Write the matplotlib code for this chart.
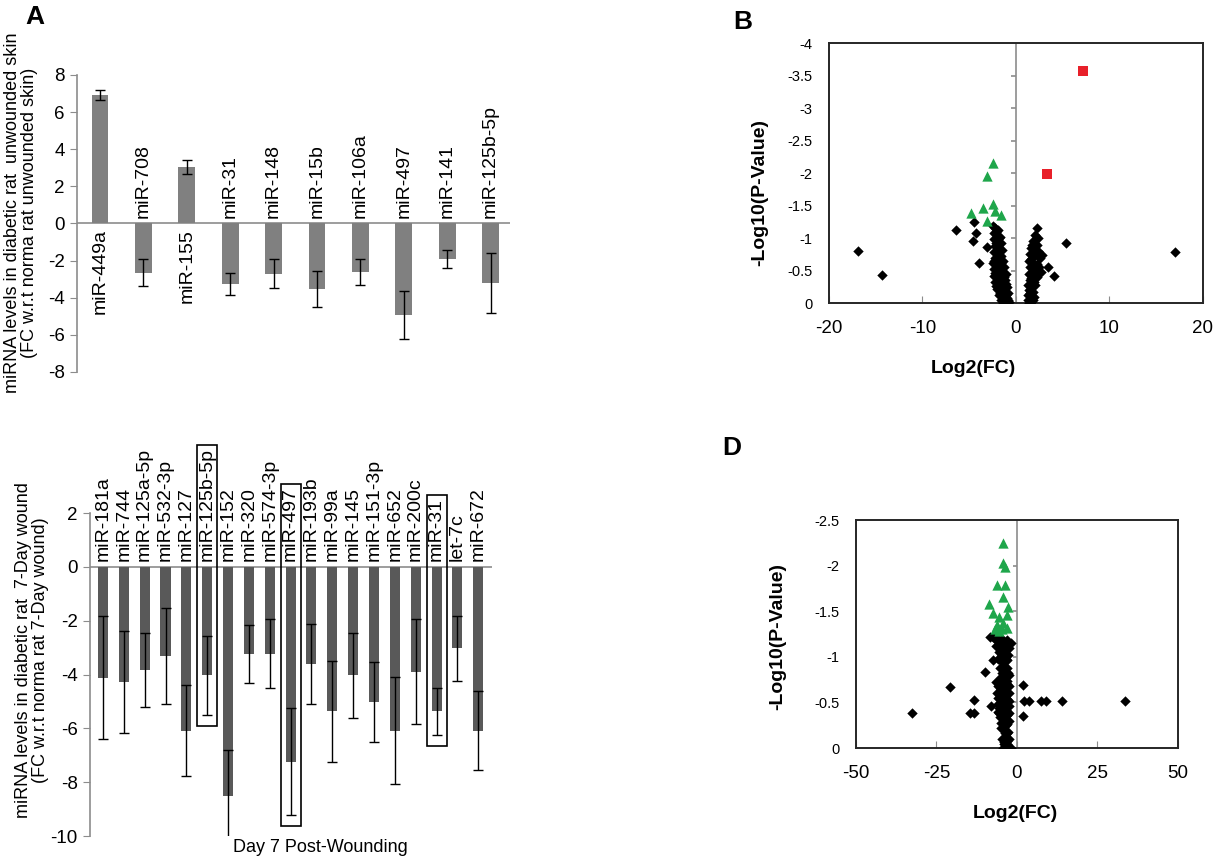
import numpy as np
import matplotlib.pyplot as plt
from matplotlib.patches import Rectangle

plt.rcParams['font.family'] = ['Liberation Sans', 'DejaVu Sans']
plt.rcParams['axes.unicode_minus'] = False

# --- panel A, top: unwounded skin
skin_mirs = ['miR-449a', 'miR-708', 'miR-155', 'miR-31', 'miR-148', 'miR-15b',
             'miR-106a', 'miR-497', 'miR-141', 'miR-125b-5p']
skin_fc = [6.9, -2.65, 3.05, -3.27, -2.7, -3.55, -2.6, -4.95, -1.9, -3.2]
skin_err = [0.27, 0.72, 0.37, 0.58, 0.8, 0.97, 0.7, 1.3, 0.48, 1.6]

# --- panel A, bottom: day 7 wound
wound_mirs = ['miR-181a', 'miR-744', 'miR-125a-5p', 'miR-532-3p', 'miR-127',
              'miR-125b-5p', 'miR-152', 'miR-320', 'miR-574-3p', 'miR-497',
              'miR-193b', 'miR-99a', 'miR-145', 'miR-151-3p', 'miR-652',
              'miR-200c', 'miR-31', 'let-7c', 'miR-672']
wound_fc = [-4.11, -4.28, -3.84, -3.3, -6.08, -4.03, -8.52, -3.22, -3.22, -7.23,
            -3.6, -5.36, -4.03, -5.01, -6.08, -3.89, -5.36, -3.02, -6.08]
wound_err = [2.3, 1.9, 1.38, 1.79, 1.7, 1.47, 1.7, 1.08, 1.28, 2.0,
             1.48, 1.87, 1.58, 1.48, 2.0, 1.96, 0.88, 1.2, 1.48]
boxed = ['miR-125b-5p', 'miR-497', 'miR-31']

# --- panel B volcano
b_black_x = [-16.9, -14.3, -6.45, -4.5, -4.28, -4.56, -3.07, -3.99,
             -2.5, -2.2, -1.9, -2.4, -2.0, -1.7, -2.3, -1.9, -1.6, -2.2, -1.8, -1.5,
             -2.4, -2.0, -1.6, -2.2, -1.8, -1.4, -2.5, -2.1, -1.7, -1.3, -2.3, -1.9,
             -1.5, -1.1, -2.4, -2.0, -1.6, -1.2, -2.2, -1.8, -1.4, -1.0, -2.0, -1.6,
             -1.2, -0.9, -1.8, -1.4, -1.0, -1.6, -1.2, -0.8, -1.4, -1.0,
             -2.1, -1.8, -2.1, -1.9, -2.3, -1.6, -2.0, -1.7, -2.2, -1.3, -1.8,
             -2.1, -1.5, -1.1, -1.7, -1.3, -1.5, -1.1, -0.9, -1.2,
             2.3, 2.0, 2.4, 1.8, 2.2, 1.6, 2.0, 2.4, 1.5, 1.9, 2.6, 1.4, 1.8, 2.2,
             1.5, 1.9, 2.3, 2.7, 1.4, 1.8, 2.2, 1.5, 1.9, 1.3, 1.7, 1.4, 1.8, 1.3,
             1.6, 1.3, 1.6, 1.7, 2.1, 1.6, 2.0, 1.7, 2.5, 1.6, 2.0, 1.5, 1.9, 1.4,
             1.5, 1.8, 2.8, 3.4, 4.1, 5.3, 17.0]
b_black_y = [-0.80, -0.43, -1.13, -1.25, -1.08, -0.96, -0.86, -0.62,
             -1.18, -1.15, -1.12, -1.08, -1.05, -1.02, -0.98, -0.95, -0.92, -0.88,
             -0.85, -0.82, -0.78, -0.76, -0.73, -0.70, -0.67, -0.65, -0.62, -0.60,
             -0.57, -0.55, -0.52, -0.50, -0.47, -0.45, -0.42, -0.40, -0.37, -0.35,
             -0.32, -0.30, -0.27, -0.25, -0.22, -0.20, -0.17, -0.15, -0.12, -0.10,
             -0.08, -0.05, -0.03, -0.02, 0.0, 0.0,
             -1.1, -1.0, -0.92, -0.8, -0.65, -0.62, -0.55, -0.45, -0.47, -0.4,
             -0.35, -0.27, -0.3, -0.3, -0.15, -0.22, -0.05, -0.12, -0.05, 0.0,
             -1.15, -1.05, -1.0, -0.95, -0.9, -0.85, -0.82, -0.8, -0.75, -0.72,
             -0.7, -0.65, -0.62, -0.6, -0.55, -0.52, -0.5, -0.48, -0.45, -0.42,
             -0.4, -0.35, -0.32, -0.28, -0.25, -0.2, -0.17, -0.12, -0.08, -0.04,
             -0.02, -0.9, -0.75, -0.68, -0.57, -0.48, -0.55, -0.38, -0.28, -0.15,
             -0.1, 0.0, -0.3, -0.05, -0.74, -0.56, -0.42, -0.92, -0.78]
b_green_x = [-2.42, -3.07, -3.5, -2.42, -4.81, -1.6, -2.25, -3.07]
b_green_y = [-2.16, -1.95, -1.46, -1.52, -1.38, -1.35, -1.42, -1.27]
b_red_x = [7.2, 3.28]
b_red_y = [-3.57, -1.98]

# --- panel D volcano
d_black_x = [-32.5, -20.7, -13.4, -14.7, -13.2, -8.2, -9.9, -7.3, -8.5, -5.7,
             2.0, 2.1, 3.6, 7.4, 9.0, 14.1, 33.7, 1.8,
             -7.5, -6.0, -4.5, -3.0, -2.0, -6.5, -5.0, -3.5, -2.5, -4.5, -3.5,
             -5.0, -4.0, -3.0, -4.5, -3.5, -2.5, -5.5, -4.0, -3.0, -6.0, -5.0,
             -3.5, -2.5, -4.5, -6.0, -3.0, -5.0, -4.0, -2.5, -5.5, -3.5, -4.5,
             -3.0, -4.0, -2.5, -5.0, -3.5, -4.0, -3.0, -3.5, -2.5, -4.0, -3.0,
             -4.4, -1.9,
             -6.5, -5.5, -4.0, -3.0, -5.5, -4.0, -2.8, -5.8, -4.5, -3.0, -5.2,
             -3.8, -2.8, -5.0, -4.0, -3.0, -6.5, -5.0, -3.8, -2.6, -6.2, -4.8,
             -3.8, -2.5, -5.8, -4.4, -3.2, -6.0, -4.6, -3.6, -2.4, -5.2, -4.2,
             -3.0, -5.0, -3.8, -2.8, -4.5, -3.2, -4.0, -2.8, -3.8]
d_black_y = [-0.38, -0.67, -0.53, -0.38, -0.38, -0.46, -0.83, -0.96, -1.22, -0.38,
             -0.69, -0.52, -0.52, -0.52, -0.52, -0.52, -0.52, -0.35,
             -1.22, -1.2, -1.2, -1.18, -1.15, -1.12, -1.1, -1.08, -1.1, -1.02,
             -0.98, -0.95, -0.9, -0.88, -0.82, -0.78, -0.8, -0.75, -0.72, -0.7,
             -0.68, -0.65, -0.62, -0.6, -0.58, -0.55, -0.54, -0.5, -0.48, -0.46,
             -0.44, -0.42, -0.38, -0.36, -0.32, -0.3, -0.28, -0.25, -0.2, -0.17,
             -0.12, -0.1, -0.07, -0.04, 0.0, 0.0,
             -1.18, -1.16, -1.15, -1.13, -1.05, -1.04, -1.02, -0.98, -0.95, -0.96,
             -0.88, -0.85, -0.82, -0.78, -0.76, -0.74, -0.72, -0.7, -0.66, -0.68,
             -0.6, -0.6, -0.56, -0.52, -0.48, -0.5, -0.46, -0.4, -0.4, -0.36,
             -0.38, -0.34, -0.27, -0.26, -0.22, -0.16, -0.18, -0.1, -0.08, -0.04,
             0.0, 0.0]
d_green_x = [-4.4, -4.4, -3.8, -6.3, -3.6, -4.2, -8.6, -2.7, -7.4, -5.5,
             -3.2, -6.1, -4.2, -6.7, -4.8, -3.2, -5.5]
d_green_y = [-2.25, -2.03, -1.98, -1.79, -1.79, -1.66, -1.58, -1.55, -1.48, -1.44,
             -1.46, -1.35, -1.37, -1.31, -1.31, -1.32, -1.28]

GRAY = '#8c8c8c'


def bar_panel(ax, names, fc, err, color, width, label_size):
    x = np.arange(len(names))
    ax.bar(x, fc, width=width, color=color, zorder=2)
    ax.errorbar(x, fc, yerr=err, fmt='none', ecolor='black', elinewidth=1,
                capsize=3.5, capthick=1, zorder=3)
    ax.axhline(0, color=GRAY, lw=1.2, zorder=1)
    labels = []
    for xi, v, n in zip(x, fc, names):
        up = v < 0
        t = ax.annotate(n, (xi, 0), xytext=(0, 4 if up else -4),
                        textcoords='offset points', rotation=90, ha='center',
                        va='bottom' if up else 'top', fontsize=label_size)
        labels.append(t)
    for s in ['top', 'right', 'bottom']:
        ax.spines[s].set_visible(False)
    ax.spines['left'].set_color(GRAY)
    ax.spines['left'].set_linewidth(1.2)
    ax.set_xticks([])
    ax.tick_params(axis='y', direction='out', length=5, color=GRAY,
                   labelsize=13.5, pad=4)
    return labels


def volcano(ax, bx, by, gx, gy, rx, ry, xt, yt):
    ax.scatter(bx, by, marker='D', s=28, color='black', linewidths=0, zorder=3)
    ax.scatter(gx, gy, marker='^', s=55, color='#1fa64b', linewidths=0, zorder=4)
    if rx:
        ax.scatter(rx, ry, marker='s', s=48, color='#e8202a', linewidths=0, zorder=4)
    ax.set_xlim(xt[0], xt[-1])
    ax.set_ylim(0, yt[-1])
    ax.set_xticks(xt, labels=[f'{t:g}' for t in xt])
    ax.set_yticks(yt, labels=[f'{t:g}' for t in yt])
    ax.axvline(0, color=GRAY, lw=1.2, zorder=1)
    ax.hlines(yt[1:-1], 0.488, 0.5, color=GRAY, lw=1.2,
              transform=ax.get_yaxis_transform())
    ax.tick_params(axis='x', direction='in', length=5, color=GRAY,
                   labelsize=13.5, pad=12)
    ax.tick_params(axis='y', length=0, labelsize=10.5, pad=12)
    for s in ax.spines.values():
        s.set_color('#262626')
        s.set_linewidth(1.4)


fig = plt.figure(figsize=(12.15, 8.61), dpi=100)

# top bar chart
ax1 = fig.add_axes([0.0634, 0.568, 0.3564, 0.345])
bar_panel(ax1, skin_mirs, skin_fc, skin_err, '#808080', 0.39, 14)
ax1.set_xlim(-0.53, 9.45)
ax1.set_ylim(-8, 8)
ax1.set_yticks(np.arange(-8, 9, 2), labels=[str(v) for v in range(-8, 9, 2)])
fig.text(0.017, 1 - 213 / 861,
         'miRNA levels in diabetic rat  unwounded skin\n(FC w.r.t norma rat unwounded skin)',
         rotation=90, ha='center', va='center', fontsize=13, linespacing=1.0)

# bottom bar chart
ax2 = fig.add_axes([0.0741, 0.029, 0.331, 0.375])
wlabels = bar_panel(ax2, wound_mirs, wound_fc, wound_err, '#595959', 0.48, 14)
ax2.set_xlim(-0.62, 18.67)
ax2.set_ylim(-10, 2)
ax2.set_yticks(np.arange(-10, 3, 2), labels=[str(v) for v in range(-10, 3, 2)])
fig.text(0.026, 1 - 650 / 861,
         'miRNA levels in diabetic rat  7-Day wound\n(FC w.r.t norma rat 7-Day wound)',
         rotation=90, ha='center', va='center', fontsize=13, linespacing=1.0)
fig.text(320 / 1215, 1 - 848 / 861, 'Day 7 Post-Wounding', ha='center',
         va='center', fontsize=13)

# boxes around highlighted miRNAs
fig.canvas.draw()
inv = ax2.transData.inverted()
for i, n in enumerate(wound_mirs):
    if n in boxed:
        bb = wlabels[i].get_window_extent()
        top = inv.transform((0, bb.y1))[1] + 0.12
        bottom = wound_fc[i] - wound_err[i] - 0.4
        ax2.add_patch(Rectangle((i - 0.48, bottom), 0.96, top - bottom,
                                fill=False, ec='black', lw=1.2, clip_on=False,
                                zorder=5))

# volcano B
ax3 = fig.add_axes([0.6823, 0.648, 0.3078, 0.302])
volcano(ax3, b_black_x, b_black_y, b_green_x, b_green_y, b_red_x, b_red_y,
        [-20, -10, 0, 10, 20], list(np.arange(0, -4.01, -0.5)))
fig.text(760 / 1215, 1 - 192 / 861, '-Log10(P-Value)', rotation=90,
         ha='center', va='center', fontsize=14, fontweight='bold')
fig.text(973 / 1215, 1 - 368 / 861, 'Log2(FC)', ha='center', va='center',
         fontsize=14, fontweight='bold')

# volcano D
ax4 = fig.add_axes([0.7045, 0.1312, 0.265, 0.2648])
volcano(ax4, d_black_x, d_black_y, d_green_x, d_green_y, [], [],
        [-50, -25, 0, 25, 50], list(np.arange(0, -2.51, -0.5)))
fig.text(778 / 1215, 1 - 637 / 861, '-Log10(P-Value)', rotation=90,
         ha='center', va='center', fontsize=14, fontweight='bold')
fig.text(1015 / 1215, 1 - 813 / 861, 'Log2(FC)', ha='center', va='center',
         fontsize=14, fontweight='bold')

# panel letters
for letter, (px, py) in {'A': (35, 17), 'B': (743, 22), 'D': (732, 448)}.items():
    fig.text(px / 1215, 1 - py / 861, letter, ha='center', va='center',
             fontsize=19, fontweight='bold')

fig.savefig('out.png', dpi=100)
